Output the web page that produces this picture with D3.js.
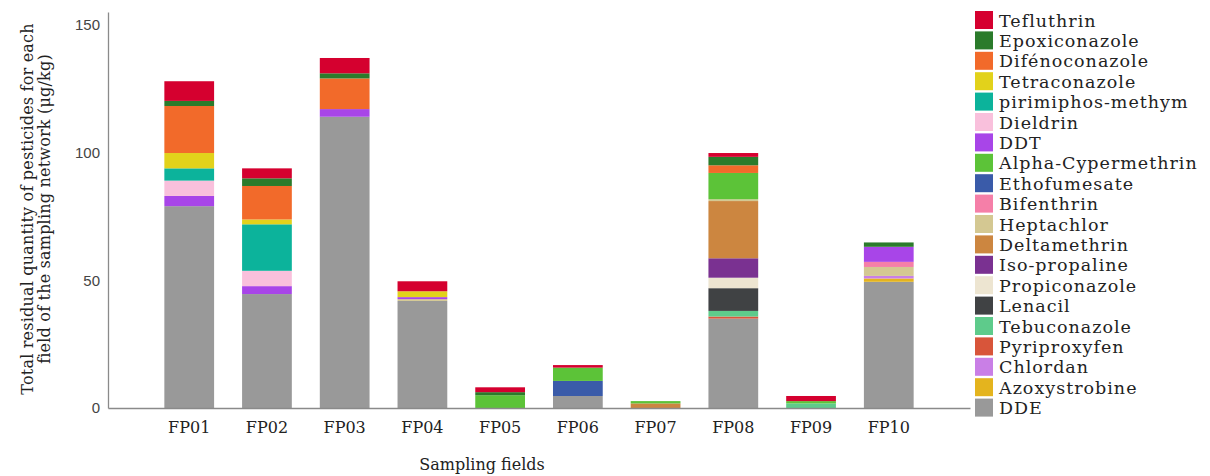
<!DOCTYPE html>
<html><head><meta charset="utf-8">
<script src="https://cdn.jsdelivr.net/npm/d3@7/dist/d3.min.js"></script>
<style>body{margin:0;background:#fff}svg{display:block}</style>
</head><body>
<svg id="c" width="1210" height="476"></svg>
<script>
const fields = ["FP01","FP02","FP03","FP04","FP05","FP06","FP07","FP08","FP09","FP10"];
// legend order (top to bottom)
const pesticides = ["Tefluthrin","Epoxiconazole","Difénoconazole","Tetraconazole","pirimiphos-methym","Dieldrin","DDT","Alpha-Cypermethrin","Ethofumesate","Bifenthrin","Heptachlor","Deltamethrin","Iso-propaline","Propiconazole","Lenacil","Tebuconazole","Pyriproxyfen","Chlordan","Azoxystrobine","DDE"];
const colors = ["#d5002f","#2b7b2b","#f26a2a","#e2d21b","#0cb39b","#f9c0dc","#a845e8","#5cc338","#3a5ba9","#f57fa8","#d4c892","#cc8640","#7a3191","#ede5d1","#404244","#5ecb8b","#d8553a","#c97fe6","#e4b41e","#999999"];
// values per field (FP01..FP10), µg/kg
const Tefluthrin        = [7.7, 3.9, 6,   3.9, 1.9, 1.0, 0,   1.5, 2.0, 0];
const Epoxiconazole     = [2,   3,   2,   0,   1.2, 0,   0,   3.3, 0,   1.7];
const Difenoconazole    = [18.4,13.1,12,  0,   0,   0,   0,   3.0, 0,   0];
const Tetraconazole     = [6,   1.9, 0,   2.3, 0,   0,   0,   0,   0,   0];
const Pirimiphos        = [4.8, 18.2,0,   0,   0,   0,   0,   0,   0,   0];
const Dieldrin          = [6,   6,   0,   0,   0,   0,   0,   0,   0,   0];
const DDT               = [4,   3.1, 3,   0.8, 0,   0,   0,   0,   0,   5.9];
const AlphaCypermethrin = [0,   0,   0,   0,   5.0, 5.2, 0.9, 10.3,0.9, 0];
const Ethofumesate      = [0,   0,   0,   0,   0,   5.9, 0,   0,   0,   0];
const Bifenthrin        = [0,   0,   0,   0,   0,   0,   0,   0,   0,   2.0];
const Heptachlor        = [0,   0,   0,   0.7, 0,   0,   0,   0.7, 0,   3.5];
const Deltamethrin      = [0,   0,   0,   0,   0,   0,   1.8, 22.4,0,   0];
const Isopropaline      = [0,   0,   0,   0,   0,   0,   0,   7.6, 0,   0];
const Propiconazole     = [0,   0,   0,   0,   0,   0,   0,   4.1, 0,   0];
const Lenacil           = [0,   0,   0,   0,   0,   0,   0,   8.9, 0,   0];
const Tebuconazole      = [0,   0,   0,   0,   0,   0,   0,   2.2, 1.8, 0];
const Pyriproxyfen      = [0,   0,   0,   0,   0,   0,   0,   0.8, 0,   0];
const Chlordan          = [0,   0,   0,   0,   0,   0,   0,   0,   0,   1.0];
const Azoxystrobine     = [0,   0,   0,   0,   0,   0,   0,   0,   0,   1.3];
const DDE               = [79,  44.6,114, 41.9,0,   4.7, 0,   35,  0,   49.4];
const seriesValues = [Tefluthrin,Epoxiconazole,Difenoconazole,Tetraconazole,Pirimiphos,Dieldrin,DDT,AlphaCypermethrin,Ethofumesate,Bifenthrin,Heptachlor,Deltamethrin,Isopropaline,Propiconazole,Lenacil,Tebuconazole,Pyriproxyfen,Chlordan,Azoxystrobine,DDE];
const yTicks = [0, 50, 100, 150];

const table = fields.map((f, i) => {
  const row = {field: f};
  pesticides.forEach((p, j) => row[p] = seriesValues[j][i]);
  return row;
});
const color = d3.scaleOrdinal().domain(pesticides).range(colors);
const stackKeys = pesticides.slice().reverse(); // DDE at bottom
const stacked = d3.stack().keys(stackKeys)(table);

const svg = d3.select("#c");
const x = d3.scaleBand().domain(fields).range([108, 970]).paddingInner(0.36).paddingOuter(0.725);
const y = d3.scaleLinear().domain([0, 155]).range([408, 12]);

// bars
svg.append("g").selectAll("g").data(stacked).join("g")
  .attr("fill", d => color(d.key))
  .selectAll("rect").data(d => d.filter(s => s[1] - s[0] > 0)).join("rect")
  .attr("x", d => x(d.data.field))
  .attr("width", x.bandwidth())
  .attr("y", d => y(d[1]))
  .attr("height", d => y(d[0]) - y(d[1]));

// y axis
const ya = svg.append("g").attr("transform", "translate(108,0)")
  .call(d3.axisLeft(y).tickValues(yTicks).tickSize(0).tickPadding(8).tickFormat(d3.format("d")));
ya.select(".domain").attr("stroke", "#8a8a8a").attr("stroke-width", 1.3);
ya.selectAll("text").attr("font-family", "Liberation Sans, Arial, sans-serif").attr("font-size", 15).attr("fill", "#444");

// x axis
const xa = svg.append("g").attr("transform", "translate(0,408)")
  .call(d3.axisBottom(x).tickSize(0).tickPadding(14));
xa.select(".domain").attr("stroke", "#8a8a8a").attr("stroke-width", 1.3);
xa.selectAll("text").attr("font-family", "DejaVu Serif, serif").attr("font-size", 16).attr("fill", "#222");

// axis titles
svg.append("text").attr("x", 482).attr("y", 470).attr("text-anchor", "middle")
  .attr("font-family", "DejaVu Serif, serif").attr("font-size", 16).attr("fill", "#222")
  .text("Sampling fields");
const yt = svg.append("text").attr("transform", "translate(0,209) rotate(-90)")
  .attr("text-anchor", "middle").attr("font-family", "DejaVu Serif, serif").attr("font-size", 16)
  .attr("letter-spacing", 0.2).attr("fill", "#222");
yt.append("tspan").attr("x", 0).attr("y", 33).text("Total residual quantity of pesticides for each");
yt.append("tspan").attr("x", 0).attr("y", 50).text("field of the sampling network (μg/kg)");

// legend
const lg = svg.append("g").attr("transform", "translate(975,11)");
const item = lg.selectAll("g").data(pesticides).join("g")
  .attr("transform", (d, i) => `translate(0,${i * 20.4})`);
item.append("rect").attr("width", 18).attr("height", 18).attr("fill", d => color(d));
item.append("text").attr("x", 24).attr("y", 15.5).attr("font-family", "DejaVu Serif, serif")
  .attr("font-size", 17.5).attr("letter-spacing", 1).attr("fill", "#222").text(d => d);
</script>
</body></html>
